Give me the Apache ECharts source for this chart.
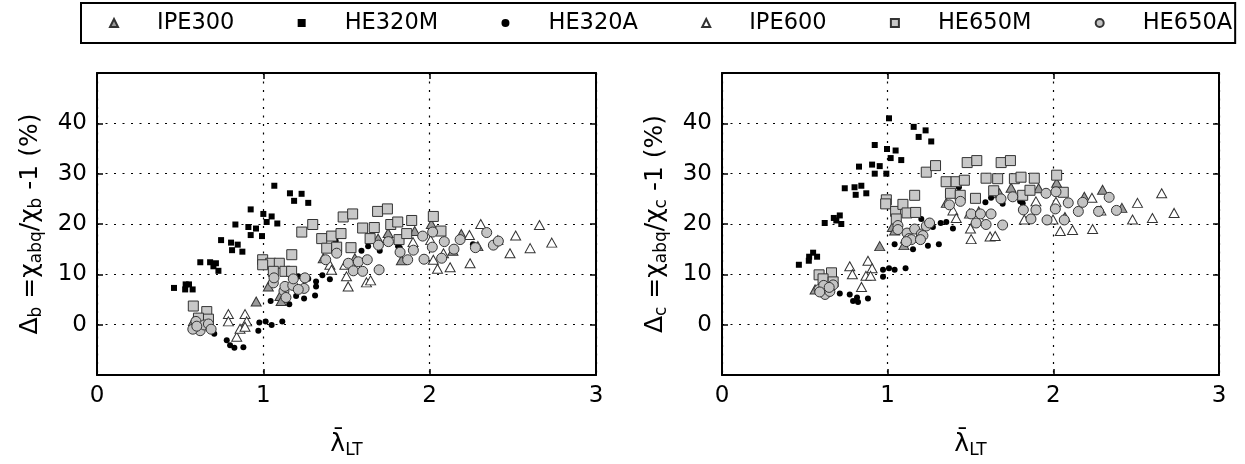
<!DOCTYPE html>
<html>
<head>
<meta charset="utf-8">
<script src="https://cdn.jsdelivr.net/npm/echarts@6/dist/echarts.min.js"></script>
<style>
  html, body { margin: 0; padding: 0; background: #fff; }
  #chart { width: 1245px; height: 464px; }
</style>
</head>
<body>
<div id="chart"></div>
<script>
// Section names in legend order
const sections = ['IPE300', 'HE320M', 'HE320A', 'IPE600', 'HE650M', 'HE650A'];

// x tick values (relative slenderness) and y tick values (%)
const xTicks = [0, 1, 2, 3];
const yTicks = [0, 10, 20, 30, 40];

// Δb results: [λ̄LT, Δb (%)]
const ipe300B = [[0.58,0.7],[0.60,1.3],[0.62,0.2],[0.957,4.6],[1.03,7.6],[1.10,5.7],[1.107,4.7],[1.36,13.2],[1.55,13.2],[1.69,17.1],[1.75,18.2],[1.83,12.8],[1.91,18.6],[2.01,20.0],[2.19,18.0],[2.29,15.6],[2.41,16.8],[2.14,14.7]];
const he320mB = [[0.463,7.3],[0.533,8.0],[0.553,8.0],[0.53,7.0],[0.575,7.0],[0.621,12.4],[0.68,12.4],[0.715,12.2],[0.70,11.6],[0.73,10.7],[0.746,16.8],[0.806,16.3],[0.846,15.9],[0.812,14.8],[0.874,14.5],[0.832,19.9],[0.924,22.9],[0.91,19.4],[0.956,19.1],[0.924,17.8],[0.992,17.6],[1.0,22.0],[1.05,21.5],[1.02,20.4],[1.084,20.1],[1.066,27.6],[1.16,26.1],[1.23,26.0],[1.185,24.6],[1.27,24.2]];
const he320aB = [[0.705,-1.8],[0.78,-3.1],[0.80,-4.1],[0.826,-4.6],[0.88,-4.5],[0.97,-1.2],[0.976,0.45],[1.014,0.65],[1.05,-0.07],[1.114,0.65],[1.044,4.7],[1.156,4.05],[1.197,5.7],[1.245,5.2],[1.197,7.0],[1.311,5.8],[1.21,9.6],[1.27,9.1],[1.317,8.6],[1.317,7.6],[1.355,9.8],[1.40,9.0],[1.435,16.6],[1.59,14.7],[1.63,15.6],[1.70,14.7],[1.81,15.6],[1.82,15.3],[2.26,16.0]];
const ipe600B = [[0.79,2.1],[0.79,0.65],[0.89,2.1],[0.90,0.65],[0.84,-2.4],[0.86,-0.8],[0.89,-0.4],[1.40,11.9],[1.41,10.9],[1.49,11.9],[1.50,9.6],[1.51,7.6],[1.56,11.6],[1.62,8.4],[1.645,8.8],[1.90,16.4],[2.006,16.8],[2.022,12.9],[2.047,11.1],[2.123,11.4],[2.083,14.2],[2.239,17.8],[2.243,12.2],[2.307,20.0],[2.483,14.2],[2.517,17.7],[2.604,15.2],[2.66,19.8],[2.734,16.3]];
const he650mB = [[0.579,3.7],[0.66,2.6],[0.67,1.1],[0.61,1.3],[0.996,12.9],[1.044,12.2],[1.096,12.2],[1.13,10.6],[1.171,13.9],[0.996,11.9],[1.06,10.6],[1.231,18.4],[1.297,19.9],[1.17,10.6],[1.351,17.1],[1.411,17.6],[1.467,18.1],[1.381,15.2],[1.441,15.4],[1.48,21.4],[1.537,22.0],[1.527,15.3],[1.597,19.2],[1.667,19.3],[1.642,17.1],[1.687,22.5],[1.746,23.0],[1.766,19.9],[1.808,20.4],[1.816,16.9],[1.862,18.1],[1.892,20.7],[2.022,21.5],[2.068,18.6]];
const he650aB = [[0.595,0.65],[0.62,-1.2],[0.645,-0.06],[0.67,0.14],[0.576,-0.9],[0.686,-0.9],[0.60,-0.3],[1.06,8.3],[1.064,9.3],[1.124,6.7],[1.13,7.6],[1.177,7.8],[1.136,5.4],[1.18,9.1],[1.245,7.2],[1.25,9.3],[1.21,7.0],[1.375,12.9],[1.441,14.2],[1.511,12.2],[1.541,10.7],[1.571,12.5],[1.597,10.6],[1.625,12.9],[1.696,10.9],[1.692,15.8],[1.752,16.5],[1.822,14.4],[1.868,12.9],[1.902,14.8],[1.958,17.6],[1.966,13.0],[2.018,18.4],[2.016,15.4],[2.072,13.2],[2.088,16.5],[2.146,15.0],[2.183,16.9],[2.275,15.3],[2.343,18.3],[2.383,15.8],[2.413,16.6]];

// Δc results: [λ̄LT, Δc (%)]
const ipe300C = [[0.562,7.0],[0.602,7.3],[0.952,15.6],[1.028,19.4],[1.042,18.7],[1.098,15.8],[1.108,17.1],[1.354,24.2],[1.55,22.5],[1.675,26.1],[1.745,27.2],[1.911,27.1],[2.02,28.2],[2.07,21.4],[2.187,25.4],[2.297,26.8],[2.414,23.2]];
const he320mC = [[0.464,11.9],[0.526,13.5],[0.55,14.3],[0.574,13.5],[0.524,12.7],[0.62,20.2],[0.675,21.2],[0.711,21.7],[0.69,20.7],[0.72,20.0],[0.741,27.1],[0.8,27.3],[0.841,27.6],[0.871,26.1],[0.807,25.8],[0.827,31.4],[0.906,31.8],[0.952,31.5],[0.922,30.0],[0.992,30.0],[0.922,35.7],[0.996,34.9],[1.048,34.6],[1.018,33.1],[1.082,32.7],[1.008,41.0],[1.157,39.3],[1.229,38.6],[1.187,37.3],[1.263,36.4]];
const he320aC = [[0.711,6.2],[0.771,6.0],[0.791,4.7],[0.815,5.4],[0.821,4.5],[0.881,5.2],[0.972,9.5],[0.972,10.9],[1.008,11.2],[1.042,10.9],[1.108,11.2],[1.042,16.0],[1.153,15.0],[1.193,16.6],[1.243,15.7],[1.309,16.0],[1.203,21.0],[1.263,20.0],[1.273,19.4],[1.354,20.4],[1.394,19.1],[1.32,20.2],[1.43,27.3],[1.59,24.3],[1.624,25.2],[1.694,24.0],[1.8,24.5],[1.815,24.1],[2.27,23.0]];
const ipe600C = [[0.771,11.6],[0.787,10.0],[0.881,12.7],[0.906,11.2],[0.869,9.7],[0.897,9.7],[0.842,7.5],[1.394,22.7],[1.414,21.2],[1.494,22.1],[1.5,19.1],[1.504,17.0],[1.56,20.9],[1.618,17.5],[1.649,17.6],[1.825,20.9],[1.895,24.5],[1.998,20.9],[2.016,24.4],[2.042,18.6],[2.116,18.8],[2.233,25.2],[2.237,19.0],[2.287,22.7],[2.478,20.9],[2.508,24.2],[2.598,21.2],[2.654,26.1],[2.729,22.2]];
const he650mC = [[0.586,9.9],[0.661,10.3],[0.61,9.1],[0.671,8.5],[0.992,24.8],[0.988,24.0],[1.048,22.5],[1.092,23.9],[1.163,25.7],[1.117,22.2],[1.169,22.3],[1.052,21.0],[1.233,30.3],[1.289,31.6],[1.353,28.4],[1.413,28.4],[1.463,28.7],[1.379,26.1],[1.438,25.7],[1.48,32.2],[1.538,32.6],[1.53,25.1],[1.594,29.1],[1.664,29.0],[1.64,26.6],[1.685,32.2],[1.741,32.6],[1.765,29.0],[1.805,29.3],[1.885,29.1],[1.815,25.7],[1.859,26.7],[2.02,29.7],[2.06,26.3]];
const he650aC = [[0.586,7.0],[0.622,6.0],[0.651,6.6],[0.671,7.9],[0.614,7.8],[0.59,6.5],[0.647,7.4],[1.062,19.7],[1.062,18.9],[1.117,18.2],[1.129,17.1],[1.163,19.0],[1.203,18.0],[1.233,19.6],[1.253,20.2],[1.143,16.9],[1.113,16.5],[1.213,17.7],[1.198,16.9],[1.373,23.8],[1.439,24.5],[1.504,22.0],[1.56,22.0],[1.534,20.2],[1.594,19.9],[1.624,22.0],[1.694,19.8],[1.684,25.0],[1.755,25.4],[1.819,22.8],[1.895,22.8],[1.865,21.0],[1.956,26.1],[2.016,26.4],[2.012,23.0],[1.962,20.8],[2.066,20.8],[2.09,24.2],[2.151,22.5],[2.177,24.3],[2.273,22.5],[2.337,25.3],[2.381,22.7]];

const FONT = 'DejaVu Sans';

// Marker style for each section
const markerStyles = {
  IPE300: { symbol: 'triangle', size: [10, 9], fill: '#9a9a9a', edge: '#333', bw: 1 },
  HE320M: { symbol: 'rect',     size: 6,       fill: '#000',    edge: '#000', bw: 0 },
  HE320A: { symbol: 'circle',   size: 6,       fill: '#000',    edge: '#000', bw: 0 },
  IPE600: { symbol: 'triangle', size: [10, 9], fill: '#fff',    edge: '#333', bw: 1 },
  HE650M: { symbol: 'rect',     size: 10,      fill: '#c8c8c8', edge: '#333', bw: 1 },
  HE650A: { symbol: 'circle',   size: 10,      fill: '#c4c4c4', edge: '#333', bw: 1 }
};

const dataB = { IPE300: ipe300B, HE320M: he320mB, HE320A: he320aB, IPE600: ipe600B, HE650M: he650mB, HE650A: he650aB };
const dataC = { IPE300: ipe300C, HE320M: he320mC, HE320A: he320aC, IPE600: ipe600C, HE650M: he650mC, HE650A: he650aC };

const dotted = { color: '#000', width: 1.2, type: [2, 6.5] };
const frame = { show: true, onZero: false, lineStyle: { color: '#000', width: 2 } };
const tickIn = { show: true, inside: true, length: 6, lineStyle: { color: '#000', width: 1.5 } };
const tickLabel = { fontFamily: FONT, fontSize: 23, color: '#000', margin: 10 };
const subRich = {
  m: { fontFamily: FONT, fontSize: 25, color: '#000', lineHeight: 30 },
  s: { fontFamily: FONT, fontSize: 17, color: '#000', lineHeight: 12, verticalAlign: 'bottom' }
};

function xAxes(gi) {
  return [
    {
      gridIndex: gi, type: 'value', position: 'bottom',
      min: xTicks[0], max: xTicks[xTicks.length - 1], interval: 1,
      axisLine: frame, axisTick: tickIn,
      axisLabel: tickLabel,
      splitLine: { show: true, lineStyle: dotted },
      name: '{m|λ̄}{s|LT}', nameLocation: 'middle', nameGap: 54,
      nameTextStyle: { rich: subRich }
    },
    {
      gridIndex: gi, type: 'value', position: 'top',
      min: xTicks[0], max: xTicks[xTicks.length - 1], interval: 1,
      axisLine: frame, axisTick: tickIn, axisLabel: { show: false }, splitLine: { show: false }
    }
  ];
}

function yAxes(gi, sub) {
  return [
    {
      gridIndex: gi, type: 'value', position: 'left',
      min: -10, max: 50, interval: 10,
      axisLine: frame, axisTick: tickIn,
      axisLabel: Object.assign({}, tickLabel, {
        formatter: v => (yTicks.indexOf(v) >= 0 ? String(v) : '')
      }),
      splitLine: { show: true, lineStyle: dotted },
      name: '{m|Δ}{s|' + sub + '}{m| =χ}{s|abq}{m|/χ}{s|' + sub + '}{m| -1 (%)}',
      nameLocation: 'middle', nameRotate: 90, nameGap: 52,
      nameTextStyle: { rich: subRich }
    },
    {
      gridIndex: gi, type: 'value', position: 'right',
      min: -10, max: 50, interval: 10,
      axisLine: frame, axisTick: tickIn, axisLabel: { show: false }, splitLine: { show: false }
    }
  ];
}

const series = [];
[[dataB, 0], [dataC, 1]].forEach(([set, gi]) => {
  sections.forEach(name => {
    const st = markerStyles[name];
    series.push({
      type: 'scatter', name: name,
      xAxisIndex: gi * 2, yAxisIndex: gi * 2,
      data: set[name],
      symbol: st.symbol, symbolSize: st.size,
      itemStyle: { color: st.fill, borderColor: st.edge, borderWidth: st.bw, opacity: 1 },
      emphasis: { disabled: true },
      animation: false
    });
  });
});

const chart = echarts.init(document.getElementById('chart'), null, { renderer: 'canvas' });
chart.setOption({
  backgroundColor: '#fff',
  animation: false,
  legend: {
    data: sections,
    left: 81, top: 3, width: 1160,
    padding: [7, 3, 7, 28],
    borderColor: '#000', borderWidth: 2, borderRadius: 0,
    itemWidth: 8, itemHeight: 8, itemGap: 63.3,
    textStyle: { fontFamily: FONT, fontSize: 22.5, color: '#000', padding: [0, 0, 0, 34], lineHeight: 26 }
  },
  grid: [
    { left: 97, top: 73, width: 499, height: 309 },
    { left: 722, top: 73, width: 497, height: 309 }
  ],
  xAxis: [...xAxes(0), ...xAxes(1)],
  yAxis: [...yAxes(0, 'b'), ...yAxes(1, 'c')],
  series: series
});
</script>
</body>
</html>
